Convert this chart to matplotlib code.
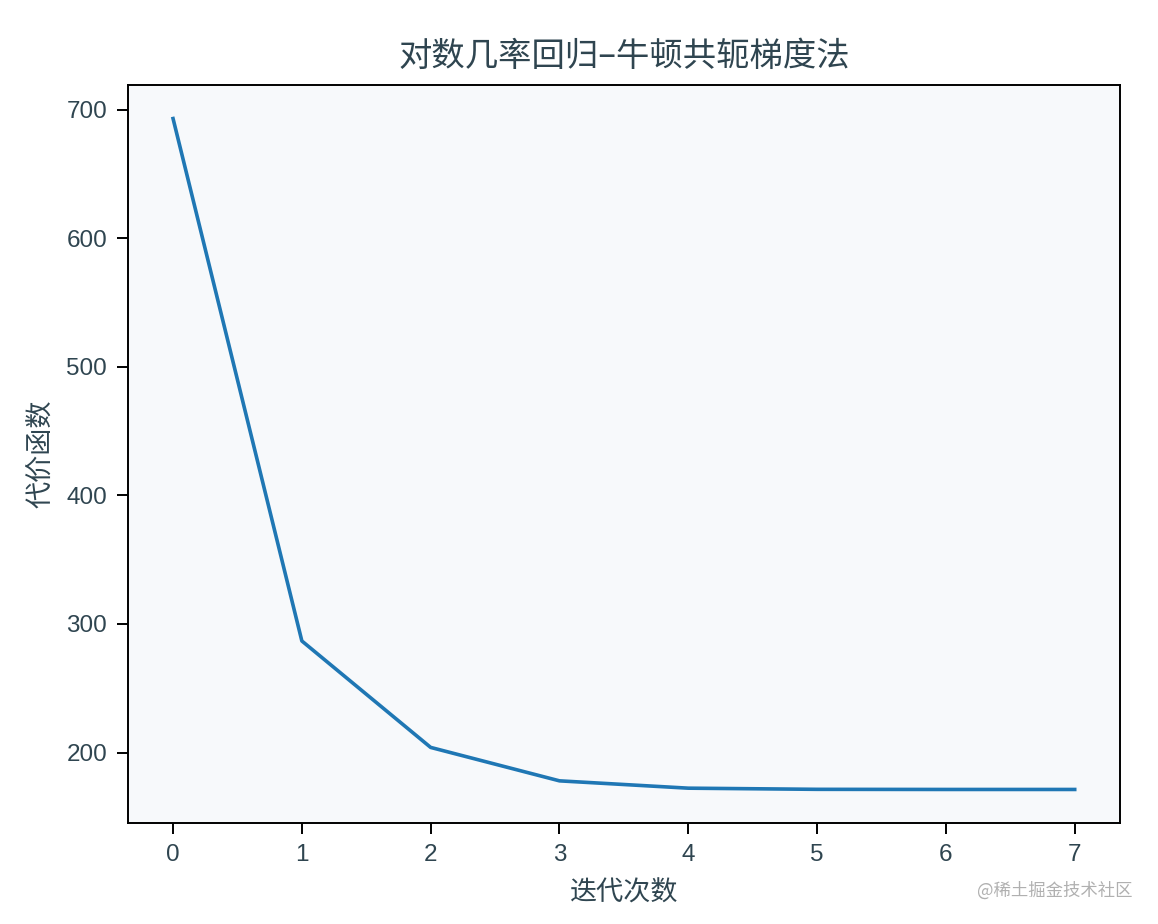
import matplotlib
matplotlib.use("Agg")
import matplotlib.pyplot as plt

plt.rcParams['font.family'] = ['Liberation Sans', 'Noto Sans CJK SC', 'DejaVu Sans']

iterations = [0, 1, 2, 3, 4, 5, 6, 7]
cost = [693.1, 286.8, 204.0, 178.0, 172.3, 171.4, 171.3, 171.3]

text_color = '#2f4550'
cjk = ['Noto Sans CJK SC', 'DejaVu Sans']

fig = plt.figure(figsize=(11.58, 9.24), dpi=100)
ax = fig.add_axes([0.1105, 0.1093, 0.8565, 0.7987])
ax.set_facecolor('#f7f9fb')
ax.plot(iterations, cost, color='#1f77b4', linewidth=2.6)

ax.set_title('对数几率回归–牛顿共轭梯度法', fontsize=24, color=text_color, pad=14, family=cjk)
ax.set_xlabel('迭代次数', fontsize=19.5, color=text_color, labelpad=10, family=cjk)
ax.set_ylabel('代价函数', fontsize=19.5, color=text_color, labelpad=8, family=cjk)
ax.tick_params(axis='both', labelsize=17.5, labelcolor=text_color, length=8, width=1.4, pad=7)
for s in ax.spines.values():
    s.set_linewidth(1.4)

fig.text(0.978, 0.036, '@稀土掘金技术社区', fontsize=12.5, color='#b0b0b0', ha='right', va='center', family=cjk)

fig.savefig('out.png', dpi=100)
